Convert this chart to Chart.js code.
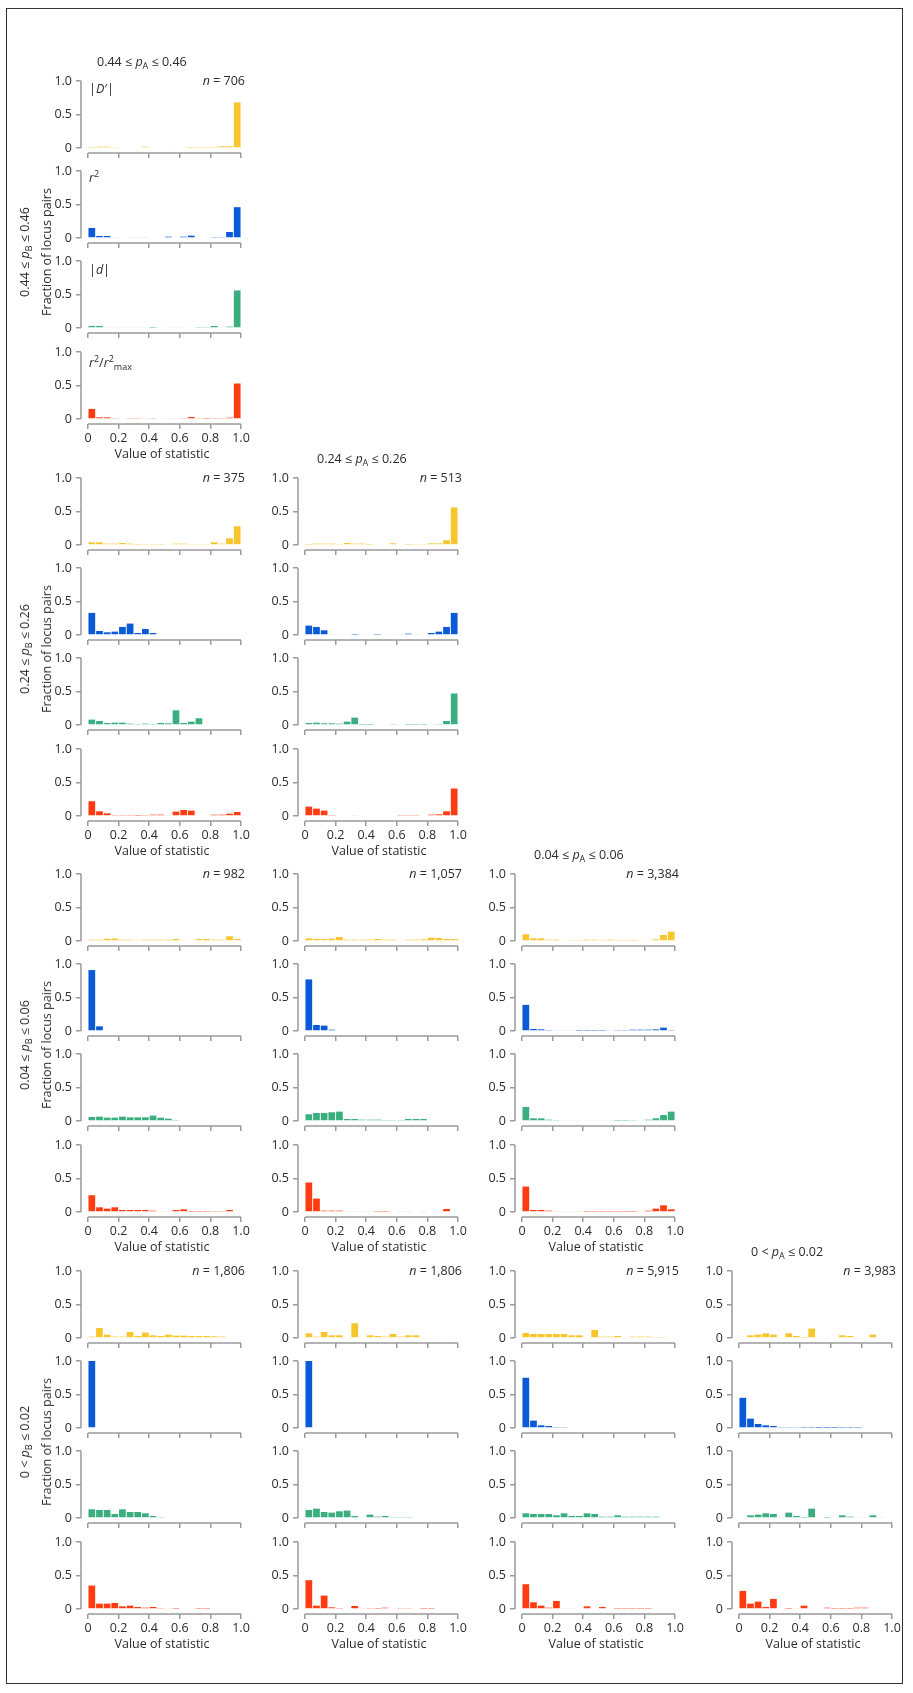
<!DOCTYPE html>
<html>
<head>
<meta charset="utf-8">
<script src="https://cdn.jsdelivr.net/npm/chart.js@4.4.1/dist/chart.umd.min.js"></script>
<style>
  body { margin: 0; background: #fff; font-family: "Open Sans", sans-serif; color: #2b2b2b; }
  #fig { position: relative; width: 913px; height: 1693px; overflow: hidden; }
  #frame { position: absolute; left: 6px; top: 8px; width: 897px; height: 1676px; border: 1.5px solid #333; box-sizing: border-box; }
  canvas { position: absolute; }
  .t { position: absolute; font-size: 12.5px; line-height: 15px; white-space: nowrap; }
  .t sub { font-size: 9px; vertical-align: -3px; line-height: 0; }
  .t sup { font-size: 9px; vertical-align: 5px; line-height: 0; }
  .ytitle { position: absolute; font-size: 12.5px; line-height: 22px; white-space: nowrap; text-align: center;
            transform: translate(-50%, -50%) rotate(-90deg); }
  .ytitle sub { font-size: 9px; vertical-align: -3px; line-height: 0; }
</style>
</head>
<body>
<div id="fig"><div id="frame"></div></div>
<script>
// bin centres (20 bins of width 0.05)
const binCenters = [0.025, 0.075, 0.125, 0.175, 0.225, 0.275, 0.325, 0.375, 0.425, 0.475,
                    0.525, 0.575, 0.625, 0.675, 0.725, 0.775, 0.825, 0.875, 0.925, 0.975];
const xTicks = [0, 0.2, 0.4, 0.6, 0.8, 1.0];
const yTicks = [0, 0.5, 1.0];
const statColors = ['#F8C52C', '#0A5AD8', '#3BAE80', '#FF3B12'];

// 0.44 <= pB <= 0.46
const D_b44_a44  = [0.005,0.02,0.02,0.008,0,0,0,0.02,0,0,0.01,0.01,0,0.005,0.005,0.005,0.005,0.025,0.025,0.68];
const r2_b44_a44 = [0.15,0.03,0.03,0.01,0,0.01,0.01,0.01,0,0,0.02,0,0.02,0.035,0,0,0.015,0.015,0.09,0.46];
const d_b44_a44  = [0.03,0.03,0.01,0.01,0.01,0.01,0.01,0.01,0.005,0,0.01,0.01,0.01,0,0.015,0.015,0.03,0.01,0.02,0.56];
const rr_b44_a44 = [0.15,0.025,0.025,0.008,0,0.008,0.008,0.01,0.008,0,0.01,0.01,0.008,0.03,0.008,0.005,0.008,0.008,0.02,0.53];

// 0.24 <= pB <= 0.26
const D_b24_a44  = [0.04,0.04,0.02,0.02,0.03,0.02,0.005,0.015,0.015,0.005,0.01,0.02,0.02,0.015,0.015,0.015,0.04,0.02,0.1,0.28];
const r2_b24_a44 = [0.33,0.06,0.04,0.05,0.12,0.17,0.03,0.09,0.03,0,0,0,0,0,0,0,0,0,0,0];
const d_b24_a44  = [0.08,0.06,0.03,0.035,0.035,0.02,0.015,0.02,0.015,0.03,0.025,0.22,0.03,0.05,0.1,0,0,0,0,0];
const rr_b24_a44 = [0.22,0.07,0.04,0.015,0.015,0.015,0.005,0.015,0.02,0.02,0.01,0.065,0.09,0.08,0,0,0.02,0.02,0.035,0.06];

const D_b24_a24  = [0.005,0.02,0.02,0.02,0.015,0.03,0.02,0.02,0.005,0,0,0.025,0,0.005,0.015,0.015,0.025,0.025,0.07,0.56];
const r2_b24_a24 = [0.14,0.12,0.07,0.01,0,0,0.005,0,0,0.005,0,0,0.01,0.02,0.01,0,0.03,0.05,0.12,0.33];
const d_b24_a24  = [0.03,0.035,0.025,0.025,0.02,0.05,0.11,0.005,0.005,0,0,0.008,0,0.005,0.005,0.005,0.01,0.015,0.06,0.47];
const rr_b24_a24 = [0.14,0.11,0.08,0.015,0,0,0.01,0,0,0,0,0,0.015,0.015,0.015,0,0.02,0.025,0.07,0.41];

// 0.04 <= pB <= 0.06
const D_b04_a44  = [0.02,0.02,0.035,0.035,0.02,0.02,0.015,0.02,0.02,0.02,0.02,0.03,0.01,0.01,0.03,0.03,0.02,0.02,0.07,0.03];
const r2_b04_a44 = [0.91,0.07,0,0,0,0,0,0,0,0,0,0,0,0,0,0,0,0,0,0];
const d_b04_a44  = [0.06,0.065,0.05,0.05,0.065,0.055,0.055,0.055,0.08,0.05,0.035,0.015,0,0,0,0,0,0,0,0];
const rr_b04_a44 = [0.25,0.07,0.05,0.07,0.03,0.03,0.03,0.03,0.02,0.01,0.01,0.03,0.04,0.005,0.005,0.005,0.015,0.015,0.03,0];

const D_b04_a24  = [0.04,0.03,0.03,0.035,0.06,0.02,0.02,0.02,0.02,0.03,0.02,0.02,0.01,0.02,0.02,0.025,0.05,0.045,0.03,0.03];
const r2_b04_a24 = [0.77,0.09,0.08,0.02,0,0,0,0,0,0,0,0,0,0,0,0,0,0,0,0];
const d_b04_a24  = [0.1,0.12,0.12,0.13,0.14,0.03,0.03,0.02,0.02,0.02,0.015,0.015,0.015,0.03,0.03,0.03,0,0,0,0];
const rr_b04_a24 = [0.44,0.2,0.02,0.02,0.02,0.01,0.01,0.01,0.01,0.005,0.005,0,0.01,0.01,0,0.01,0,0.01,0.045,0];

const D_b04_a04  = [0.1,0.04,0.04,0.02,0.02,0.01,0.015,0.015,0.02,0.02,0.015,0.02,0.005,0.005,0.005,0.01,0.01,0.025,0.09,0.14];
const r2_b04_a04 = [0.39,0.03,0.025,0.015,0.01,0.01,0.01,0.005,0.005,0.005,0.005,0.01,0.015,0.015,0.02,0.02,0.02,0.025,0.05,0.015];
const d_b04_a04  = [0.21,0.04,0.04,0.02,0.015,0.01,0.01,0.01,0.01,0.01,0.01,0.01,0.005,0.005,0.008,0.01,0.02,0.04,0.09,0.14];
const rr_b04_a04 = [0.38,0.03,0.03,0.02,0.01,0.01,0.01,0.01,0.005,0.005,0.005,0.005,0.005,0.005,0.005,0.01,0.02,0.05,0.1,0.04];

// 0 < pB <= 0.02
const D_b00_a44  = [0.02,0.15,0.05,0.02,0.02,0.09,0.03,0.08,0.04,0.03,0.05,0.035,0.035,0.03,0.03,0.03,0.025,0.02,0.01,0];
const r2_b00_a44 = [1.0,0,0,0,0,0,0,0,0,0,0,0,0,0,0,0,0,0,0,0];
const d_b00_a44  = [0.13,0.12,0.12,0.06,0.13,0.09,0.09,0.07,0.03,0.015,0,0,0,0,0,0,0,0,0,0];
const rr_b00_a44 = [0.35,0.08,0.08,0.09,0.04,0.05,0.03,0.02,0.03,0.015,0.01,0.005,0,0,0.005,0.005,0,0,0,0];

const D_b00_a24  = [0.07,0.02,0.09,0.04,0.04,0.01,0.22,0.01,0.04,0.03,0.02,0.06,0.02,0.04,0.04,0,0.01,0.01,0,0];
const r2_b00_a24 = [1.0,0,0,0,0,0,0,0,0,0,0,0,0,0,0,0,0,0,0,0];
const d_b00_a24  = [0.12,0.14,0.09,0.08,0.1,0.11,0.03,0.01,0.05,0.02,0.03,0.015,0.015,0.015,0,0,0,0,0,0];
const rr_b00_a24 = [0.43,0.05,0.2,0.025,0.015,0,0.045,0.01,0.015,0.005,0.02,0,0.008,0.008,0,0.005,0.005,0,0,0];

const D_b00_a04  = [0.075,0.06,0.06,0.06,0.06,0.06,0.04,0.04,0.01,0.12,0.02,0.02,0.03,0.01,0.02,0.02,0.02,0.015,0.015,0];
const r2_b00_a04 = [0.75,0.11,0.04,0.03,0.015,0.008,0,0,0,0,0,0,0,0,0,0,0,0,0,0];
const d_b00_a04  = [0.07,0.06,0.06,0.06,0.04,0.07,0.03,0.03,0.07,0.06,0.02,0.02,0.04,0.02,0.02,0.02,0.02,0.02,0,0];
const rr_b00_a04 = [0.37,0.1,0.05,0.02,0.12,0.01,0.01,0,0.04,0,0.03,0,0.005,0.005,0.005,0.005,0.005,0,0,0];

const D_b00_a00  = [0,0.04,0.05,0.07,0.05,0.01,0.07,0.03,0.005,0.14,0,0.01,0,0.04,0.03,0.01,0.01,0.05,0.01,0];
const r2_b00_a00 = [0.45,0.14,0.06,0.04,0.03,0.015,0.008,0.008,0.005,0.005,0.003,0.003,0.003,0.005,0.005,0.005,0,0,0,0];
const d_b00_a00  = [0,0.04,0.05,0.07,0.06,0.01,0.08,0.03,0.005,0.14,0,0.005,0,0.04,0.02,0.01,0.01,0.04,0.01,0];
const rr_b00_a00 = [0.27,0.08,0.11,0.03,0.15,0,0.005,0.01,0.05,0,0,0.02,0.005,0.005,0.005,0.02,0.02,0,0,0];

const nCounts = ['706', '375', '513', '982', '1,057', '3,384', '1,806', '1,806', '5,915', '3,983'];
const pRanges = ['0.44 ≤ <i>p</i><sub>{X}</sub> ≤ 0.46', '0.24 ≤ <i>p</i><sub>{X}</sub> ≤ 0.26',
                 '0.04 ≤ <i>p</i><sub>{X}</sub> ≤ 0.06', '0 &lt; <i>p</i><sub>{X}</sub> ≤ 0.02'];
const statNames = ['|<i>D</i>′|', '<i>r</i><sup>2</sup>', '|<i>d</i>|', '<i>r</i><sup>2</sup>/<i>r</i><sup>2</sup><sub>max</sub>'];

// groups: row (pB), col (pA)
const groups = [
  { row: 0, col: 0, n: nCounts[0], sets: [D_b44_a44, r2_b44_a44, d_b44_a44, rr_b44_a44] },
  { row: 1, col: 0, n: nCounts[1], sets: [D_b24_a44, r2_b24_a44, d_b24_a44, rr_b24_a44] },
  { row: 1, col: 1, n: nCounts[2], sets: [D_b24_a24, r2_b24_a24, d_b24_a24, rr_b24_a24] },
  { row: 2, col: 0, n: nCounts[3], sets: [D_b04_a44, r2_b04_a44, d_b04_a44, rr_b04_a44] },
  { row: 2, col: 1, n: nCounts[4], sets: [D_b04_a24, r2_b04_a24, d_b04_a24, rr_b04_a24] },
  { row: 2, col: 2, n: nCounts[5], sets: [D_b04_a04, r2_b04_a04, d_b04_a04, rr_b04_a04] },
  { row: 3, col: 0, n: nCounts[6], sets: [D_b00_a44, r2_b00_a44, d_b00_a44, rr_b00_a44] },
  { row: 3, col: 1, n: nCounts[7], sets: [D_b00_a24, r2_b00_a24, d_b00_a24, rr_b00_a24] },
  { row: 3, col: 2, n: nCounts[8], sets: [D_b00_a04, r2_b00_a04, d_b00_a04, rr_b00_a04] },
  { row: 3, col: 3, n: nCounts[9], sets: [D_b00_a00, r2_b00_a00, d_b00_a00, rr_b00_a00] },
];

// layout
const colX = [88, 305, 522, 739];
const rowTop = [81, 478, 874, 1271];
const panelOff = [0, 90, 180, 271];
const PX = 153, GAPX = 7, PY = 67, GAPY = 5;
const YW = 40, PADT = 9, PADR = 12, XH = 26;
const AXIS = '#9b9b9b', TEXT = '#2b2b2b';
const FONT = { family: '"Open Sans", sans-serif', size: 12.5 };

const fig = document.getElementById('fig');

function addText(html, x, y, align) {
  const el = document.createElement('div');
  el.className = 't';
  el.innerHTML = html;
  el.style.left = x + 'px';
  el.style.top = y + 'px';
  el.style.transform = align === 'right' ? 'translate(-100%, -50%)'
                     : align === 'center' ? 'translate(-50%, -50%)' : 'translateY(-50%)';
  fig.appendChild(el);
}

const axisLines = {
  id: 'axisLines',
  afterDraw(chart) {
    const { ctx, chartArea, scales: { x, y } } = chart;
    ctx.save();
    ctx.strokeStyle = AXIS;
    ctx.lineWidth = 1.5;
    ctx.beginPath();
    ctx.moveTo(x.getPixelForValue(0), chartArea.bottom);
    ctx.lineTo(x.getPixelForValue(1), chartArea.bottom);
    ctx.moveTo(chartArea.left, y.getPixelForValue(0));
    ctx.lineTo(chartArea.left, y.getPixelForValue(1));
    ctx.stroke();
    ctx.restore();
  }
};

function makePanel(x0, top, values, color, showLabels) {
  const c = document.createElement('canvas');
  c.width = YW + GAPX + PX + PADR;
  c.height = PADT + PY + GAPY + XH;
  c.style.left = (x0 - GAPX - YW) + 'px';
  c.style.top = (top - PADT) + 'px';
  fig.appendChild(c);

  new Chart(c, {
    type: 'bar',
    data: {
      datasets: [{
        data: binCenters.map((x, i) => ({ x: x, y: values[i] })),
        backgroundColor: color,
        borderWidth: 0,
        categoryPercentage: 1,
        barPercentage: 0.88,
      }]
    },
    options: {
      responsive: false,
      animation: false,
      devicePixelRatio: 1,
      layout: { padding: { top: PADT, right: PADR, left: 0, bottom: 0 } },
      plugins: { legend: { display: false }, tooltip: { enabled: false } },
      scales: {
        x: {
          type: 'linear', min: -GAPX / PX, max: 1, offset: false,
          border: { display: false },
          grid: { drawOnChartArea: false, drawTicks: true, tickLength: 5, color: AXIS, lineWidth: 1.5, offset: false },
          ticks: {
            color: showLabels ? TEXT : 'rgba(0,0,0,0)', font: FONT, padding: 2,
            maxRotation: 0, autoSkip: false,
            callback: v => v === 0 ? '0' : v.toFixed(1)
          },
          afterBuildTicks: s => { s.ticks = xTicks.map(v => ({ value: v })); },
          afterFit: s => { s.height = XH; s.paddingLeft = 0; s.paddingRight = 0; }
        },
        y: {
          min: -GAPY / PY, max: 1,
          border: { display: false },
          grid: { drawOnChartArea: false, drawTicks: true, tickLength: 5, color: AXIS, lineWidth: 1.5 },
          ticks: {
            color: TEXT, font: FONT, padding: 4,
            callback: v => v === 0 ? '0' : v.toFixed(1)
          },
          afterBuildTicks: s => { s.ticks = yTicks.map(v => ({ value: v })); },
          afterFit: s => { s.width = YW; s.paddingTop = 0; s.paddingBottom = 0; }
        }
      }
    },
    plugins: [axisLines]
  });
}

groups.forEach(g => {
  const x0 = colX[g.col], t0 = rowTop[g.row];
  g.sets.forEach((vals, k) => {
    makePanel(x0, t0 + panelOff[k], vals, statColors[k], k === 3);
  });
  addText('<i>n</i> = ' + g.n, x0 + 157, t0 - 1, 'right');
  addText('Value of statistic', x0 + 74, t0 + panelOff[3] + PY + 34, 'center');
  if (g.row === g.col) {
    addText(pRanges[g.col].replace('{X}', 'A'), x0 + (g.col === 0 ? 9 : 12), t0 - 20, 'left');
  }
});

// stat names in the first group
const statDy = [7, 6, 8, 10];
statNames.forEach((s, k) => addText(s, colX[0] + 1, rowTop[0] + panelOff[k] + statDy[k], 'left'));

// row titles
rowTop.forEach((t, r) => {
  const el = document.createElement('div');
  el.className = 'ytitle';
  el.innerHTML = pRanges[r].replace('{X}', 'B') + '<br>Fraction of locus pairs';
  el.style.left = '36px';
  el.style.top = (t + 171) + 'px';
  fig.appendChild(el);
});
</script>
</body>
</html>
